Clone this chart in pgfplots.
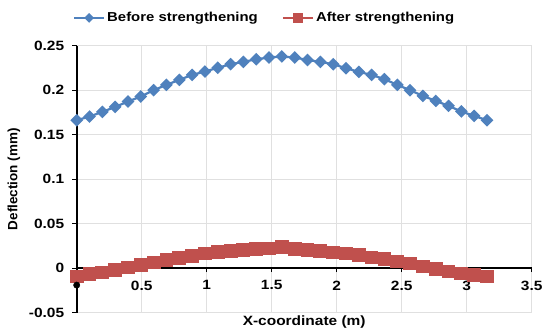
\documentclass[border=0pt]{standalone}
\usepackage{pgfplots}
\usepackage{pgfplotstable}
\pgfplotsset{compat=1.18}
\usepackage{fontspec}
\setmainfont{Liberation Sans}[FakeStretch=1.15]
\newfontfamily\labelsans{Liberation Sans}

\definecolor{serBlue}{RGB}{79,129,189}
\definecolor{serRed}{RGB}{192,80,77}
\definecolor{gridGray}{RGB}{224,224,224}

% Mid-span deflection along the beam, before and after strengthening (mm)
\pgfplotstableread{
x      before   after
0.000  0.1663  -0.0094
0.099  0.1704  -0.0067
0.197  0.1756  -0.0049
0.296  0.1812  -0.0022
0.395  0.1873   0.0007
0.493  0.1929   0.0037
0.592  0.2000   0.0064
0.690  0.2060   0.0090
0.789  0.2116   0.0112
0.888  0.2172   0.0138
0.986  0.2210   0.0165
1.085  0.2251   0.0184
1.184  0.2292   0.0191
1.282  0.2318   0.0206
1.381  0.2348   0.0213
1.479  0.2367   0.0221
1.578  0.2379   0.0236
1.677  0.2367   0.0213
1.775  0.2340   0.0202
1.874  0.2318   0.0195
1.973  0.2292   0.0176
2.071  0.2247   0.0165
2.170  0.2206   0.0146
2.268  0.2172   0.0120
2.367  0.2124   0.0101
2.466  0.2060   0.0075
2.564  0.2000   0.0052
2.663  0.1936   0.0019
2.762  0.1880  -0.0011
2.860  0.1824  -0.0037
2.959  0.1761  -0.0060
3.057  0.1711  -0.0079
3.156  0.1663  -0.0094
}\deflection

\begin{document}
\begin{tikzpicture}[x=1bp,y=1bp]
\begin{axis}[
  at={(76.7bp,17.3bp)}, anchor=south west,
  scale only axis, width=455bp, height=267bp,
  xmin=0, xmax=3.5, ymin=-0.05, ymax=0.25,
  clip=false,
  axis lines*=left,
  axis x line shift=-44.5bp,
  axis line style={black, line width=1.8bp},
  xtick={0.5,1,1.5,2,2.5,3,3.5},
  xticklabels={0.5,1,1.5,2,2.5,3,3.5},
  ytick={-0.05,0,0.05,0.1,0.15,0.2,0.25},
  yticklabels={-0.05,0,0.05,0.1,0.15,0.2,0.25},
  grid=major, major grid style={gridGray, line width=0.9bp},
  tick style={black, line width=1.4bp},
  major tick length=4bp,
  tick align=outside,
  tick label style={font=\fontsize{13.5}{16}\selectfont\bfseries},
  xticklabel style={yshift=-5bp},
  yticklabel style={xshift=-5bp},
  xlabel={X-coordinate (m)},
  ylabel={\labelsans Deflection (mm)},
  label style={font=\fontsize{13.5}{16}\selectfont\bfseries},
  xlabel style={at={(axis description cs:0.5,-0.0112)}, anchor=north, inner sep=0pt},
  ylabel style={at={(axis description cs:-0.1378,0.5)}, anchor=center, inner sep=0pt},
  legend style={at={(axis description cs:0.413,1.104)}, anchor=center,
    draw=none, fill=none, legend columns=2,
    font=\fontsize{13}{15}\selectfont\bfseries,
    nodes={inner sep=2bp},
    /tikz/every even column/.append style={column sep=22bp}},
  legend image code/.code={\draw[mark repeat=2, mark phase=2, #1,
      every mark/.append style={scale=0.7}]
    plot coordinates {(0bp,0bp) (15bp,0bp) (30bp,0bp)};},
  unbounded coords=jump,
]
% vertical axis line at x = 0 with its outward ticks
\addplot[black, line width=1.9bp, forget plot]
  coordinates {(0,-0.05) (0,0.25)};
\addplot[black, line width=1.4bp, forget plot] coordinates {
  (-0.034,-0.05) (0,-0.05) (0,nan)
  (-0.034,0) (0,0) (0,nan)
  (-0.034,0.05) (0,0.05) (0,nan)
  (-0.034,0.1) (0,0.1) (0,nan)
  (-0.034,0.15) (0,0.15) (0,nan)
  (-0.034,0.2) (0,0.2) (0,nan)
  (-0.034,0.25) (0,0.25)};
% short ticks below the line y = 0
\addplot[black, line width=1.4bp, forget plot] coordinates {
  (0.5,0) (0.5,-0.0045) (0.5,nan)
  (1,0) (1,-0.0045) (1,nan)
  (1.5,0) (1.5,-0.0045) (1.5,nan)
  (2,0) (2,-0.0045) (2,nan)
  (2.5,0) (2.5,-0.0045) (2.5,nan)
  (3,0) (3,-0.0045) (3,nan)
  (3.5,0) (3.5,-0.0045)};
\addplot[serBlue, line width=2.2bp, mark=square*, mark size=3.4bp,
  mark options={rotate=45, solid}] table[x=x, y=before] {\deflection};
\addlegendentry{Before strengthening}
\addplot[serRed, line width=2.2bp, mark=square*, mark size=5.8bp,
  mark options={solid}] table[x=x, y=after] {\deflection};
\addlegendentry{After strengthening}
\addplot[black, only marks, mark=*, mark size=3.2bp, forget plot]
  coordinates {(0,-0.019)};
\end{axis}
\pgfresetboundingbox
\path[use as bounding box] (0,0) rectangle (542bp,330bp);
\end{tikzpicture}
\end{document}
